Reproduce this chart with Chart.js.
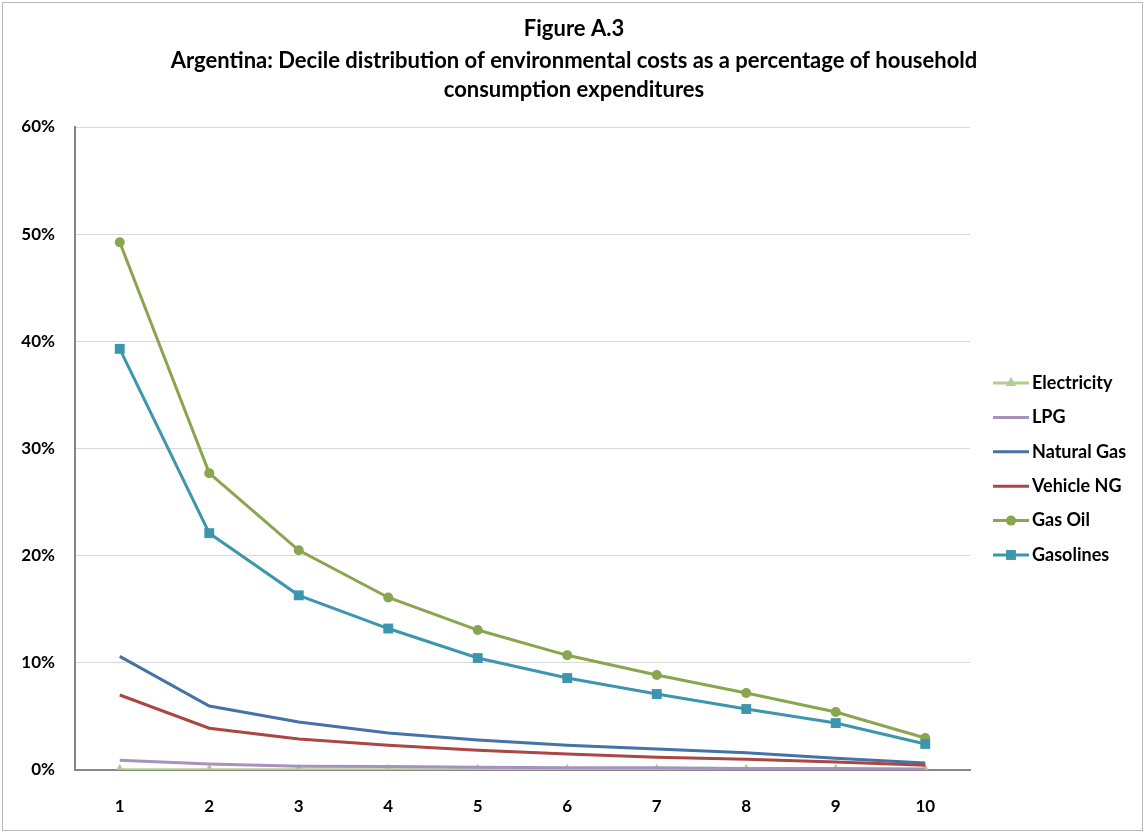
<!DOCTYPE html>
<html>
<head>
<meta charset="utf-8">
<script src="https://cdn.jsdelivr.net/npm/chart.js@4"></script>
<style>
  body { margin: 0; background: #fff; }
  #wrap { width: 1145px; height: 832px; }
</style>
</head>
<body>
<div id="wrap"><canvas id="chart" width="1145" height="832"></canvas></div>
<script>
// data (percent of household consumption expenditures)
var deciles = ['1', '2', '3', '4', '5', '6', '7', '8', '9', '10'];
var electricity = [0.02, 0.02, 0.02, 0.02, 0.02, 0.02, 0.02, 0.02, 0.02, 0.02];
var lpg = [0.9, 0.55, 0.35, 0.33, 0.25, 0.22, 0.2, 0.15, 0.13, 0.1];
var naturalGas = [10.6, 5.97, 4.48, 3.45, 2.8, 2.3, 1.96, 1.6, 1.1, 0.65];
var vehicleNG = [7.0, 3.9, 2.9, 2.3, 1.85, 1.5, 1.2, 1.0, 0.75, 0.45];
var gasOil = [49.25, 27.7, 20.5, 16.1, 13.06, 10.7, 8.86, 7.18, 5.41, 2.99];
var gasolines = [39.3, 22.1, 16.3, 13.2, 10.45, 8.58, 7.09, 5.69, 4.38, 2.43];
var yTicks = [0, 10, 20, 30, 40, 50, 60];

var titleLines = [
    'Figure A.3',
    'Argentina: Decile distribution of environmental costs as a percentage of household',
    'consumption expenditures'
];

var FONT = 'Lato, "Open Sans", sans-serif';

function makeSeries(label, data, color, pointStyle, radius, order) {
    return {
        label: label,
        data: data,
        borderColor: color,
        backgroundColor: color,
        borderWidth: 3,
        pointStyle: pointStyle || 'circle',
        pointRadius: radius || 0,
        pointHoverRadius: radius || 0,
        pointBorderWidth: 0,
        tension: 0,
        order: order,
    };
}

var datasets = [
    makeSeries('Electricity', electricity, '#b3cc8f', 'triangle', 6, 5),
    makeSeries('LPG', lpg, '#a692bd', null, 0, 4),
    makeSeries('Natural Gas', naturalGas, '#4572a7', null, 0, 3),
    makeSeries('Vehicle NG', vehicleNG, '#aa4643', null, 0, 2),
    makeSeries('Gas Oil', gasOil, '#89a54e', 'circle', 5, 1),
    makeSeries('Gasolines', gasolines, '#3d96ae', 'rect', 7, 0),
];

// frame, title and the right-hand legend
var decorations = {
    id: 'decorations',
    beforeDraw: function (chart) {
        var ctx = chart.ctx;
        ctx.save();
        ctx.fillStyle = '#fff';
        ctx.fillRect(0, 0, chart.width, chart.height);
        ctx.strokeStyle = '#b8b8b8';
        ctx.lineWidth = 1;
        ctx.strokeRect(2.5, 2.5, chart.width - 5, chart.height - 4);
        ctx.restore();
    },
    afterDraw: function (chart) {
        var ctx = chart.ctx;
        ctx.save();
        ctx.fillStyle = '#000';
        ctx.textAlign = 'center';
        ctx.textBaseline = 'middle';
        ctx.font = 'bold 22px ' + FONT;
        var ys = [29, 61, 90];
        for (let i = 0; i < titleLines.length; i++) {
            ctx.fillText(titleLines[i], 574, ys[i]);
        }

        var x0 = 993, x1 = 1029;
        var top = 383, step = 34.4;
        ctx.font = 'bold 18px ' + FONT;
        ctx.textAlign = 'left';
        for (let i = 0; i < chart.data.datasets.length; i++) {
            var ds = chart.data.datasets[i];
            var y = top + i * step;
            ctx.strokeStyle = ds.borderColor;
            ctx.lineWidth = 3;
            ctx.beginPath();
            ctx.moveTo(x0, y);
            ctx.lineTo(x1, y);
            ctx.stroke();
            if (ds.pointRadius > 0) {
                ctx.fillStyle = ds.backgroundColor;
                Chart.helpers.drawPoint(ctx, {
                    pointStyle: ds.pointStyle,
                    rotation: 0,
                    borderWidth: 0,
                    radius: ds.pointRadius,
                }, (x0 + x1) / 2, y);
            }
            ctx.fillStyle = '#000';
            ctx.fillText(ds.label, x1 + 3, y);
        }
        ctx.restore();
    }
};

var chart = new Chart(document.getElementById('chart').getContext('2d'), {
    type: 'line',
    data: {
        labels: deciles,
        datasets: datasets,
    },
    options: {
        responsive: false,
        animation: false,
        layout: {
            padding: { top: 127, right: 175, bottom: 0, left: 0 },
        },
        plugins: {
            legend: { display: false },
            title: { display: false },
            tooltip: { enabled: false },
        },
        scales: {
            x: {
                type: 'category',
                offset: true,
                grid: { display: false, drawTicks: true, tickLength: 26, tickColor: 'rgba(0,0,0,0)' },
                border: { display: true, color: '#868686', width: 2 },
                ticks: {
                    color: '#000',
                    padding: 0,
                    font: { family: FONT, size: 17, weight: 'bold' },
                },
                afterFit: function (scale) { scale.height = 62; },
            },
            y: {
                min: 0,
                max: 60,
                afterBuildTicks: function (scale) {
                    scale.ticks = yTicks.map(function (v) { return { value: v }; });
                },
                grid: { color: '#d9d9d9', lineWidth: 1, drawTicks: false },
                border: { display: true, color: '#868686', width: 2 },
                ticks: {
                    color: '#000',
                    padding: 20,
                    font: { family: FONT, size: 17, weight: 'bold' },
                    callback: function (v) { return v + '%'; },
                },
                afterFit: function (scale) { scale.width = 75; },
            },
        },
    },
    plugins: [decorations],
});
</script>
</body>
</html>
